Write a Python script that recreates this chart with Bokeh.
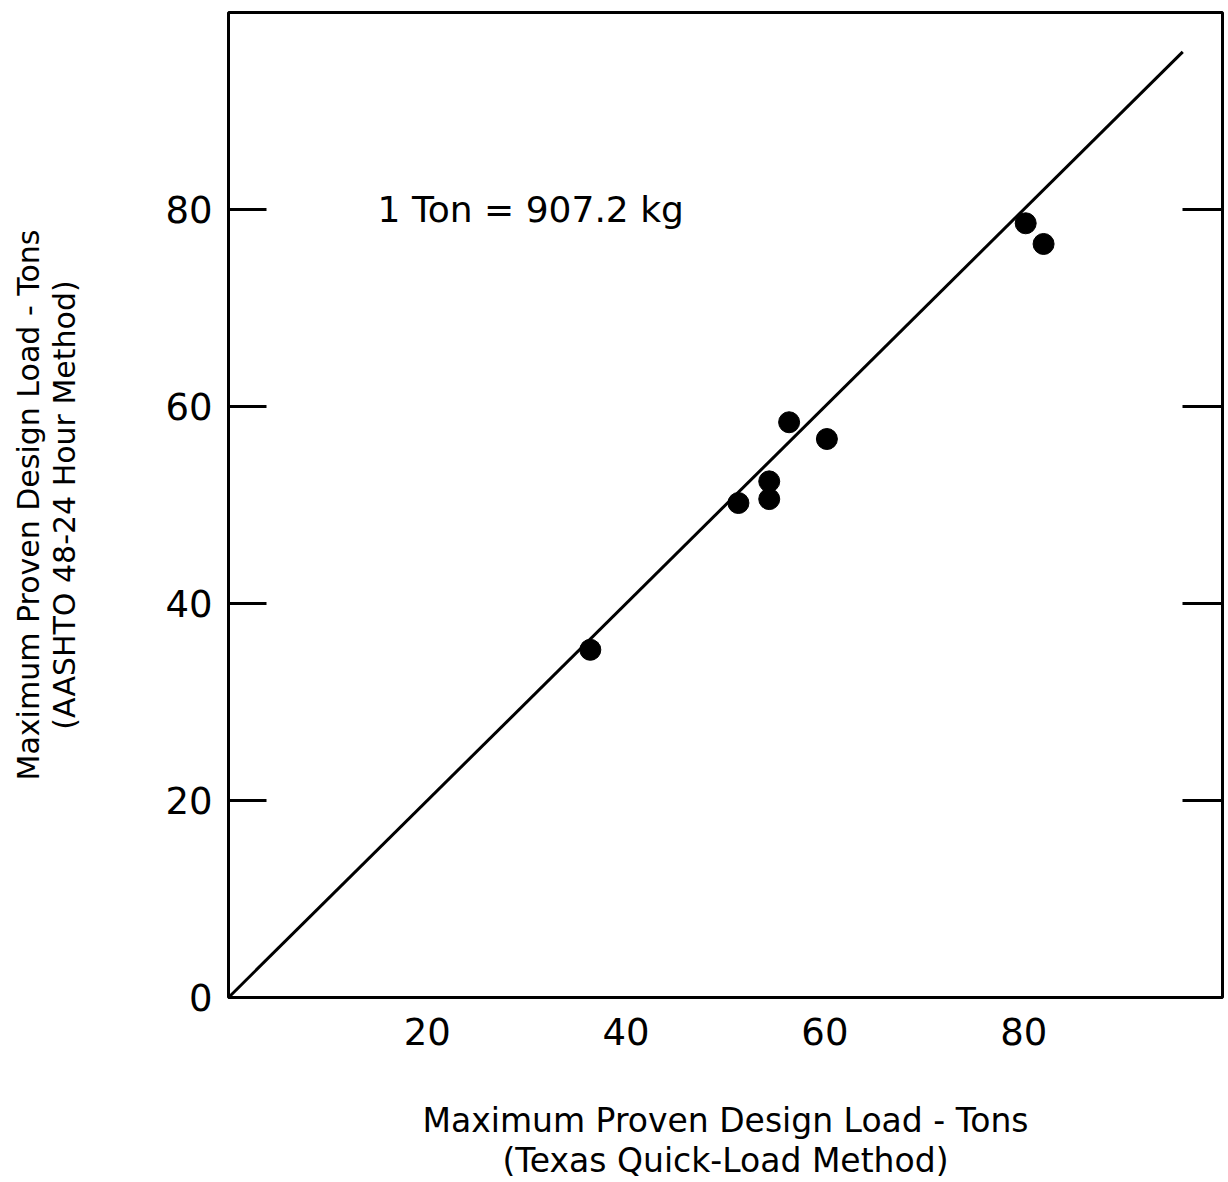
from bokeh.plotting import figure
from bokeh.models import Range1d, FixedTicker, LinearAxis, Label
from bokeh.embed import file_html
from bokeh.resources import INLINE

# Data (tons)
texas_quick_load = [36.4, 51.3, 54.4, 54.4, 56.4, 60.2, 80.2, 82.0]
aashto_48_24 = [35.3, 50.2, 52.4, 50.6, 58.4, 56.7, 78.6, 76.5]
line_x = [0, 96]
line_y = [0, 96]
y_ticks = [0, 20, 40, 60, 80]
x_ticks = [20, 40, 60, 80]
right_ticks = [20, 40, 60, 80]
x_title = "Maximum Proven Design Load - Tons\n(Texas Quick-Load Method)"
y_title = "Maximum Proven Design Load - Tons\n(AASHTO 48-24 Hour Method)"
note = "1 Ton = 907.2 kg"

FONT = "DejaVu Sans"

p = figure(width=1224, height=1182, output_backend="svg", toolbar_location=None,
           x_range=Range1d(0, 100), y_range=Range1d(0, 100),
           min_border_left=228, min_border_right=2, min_border_top=12, min_border_bottom=185,
           x_axis_location=None, y_axis_location=None)
p.grid.visible = False
p.background_fill_color = "white"
p.border_fill_color = "white"
p.outline_line_color = "black"
p.outline_line_width = 3

# bottom axis
xa = LinearAxis(ticker=FixedTicker(ticks=x_ticks))
xa.axis_line_color = None
xa.major_tick_in = 0
xa.major_tick_out = 0
xa.minor_tick_line_color = None
xa.major_label_standoff = 20
xa.major_label_text_font = FONT
xa.major_label_text_font_size = "37px"
xa.major_label_text_color = "black"
xa.axis_label = x_title
xa.axis_label_standoff = 53
xa.axis_label_text_font = FONT
xa.axis_label_text_font_size = "33px"
xa.axis_label_text_font_style = "normal"
xa.axis_label_text_color = "black"
xa.axis_label_text_line_height = 1.03
p.add_layout(xa, "below")

# left axis
ya = LinearAxis(ticker=FixedTicker(ticks=y_ticks))
ya.axis_line_color = None
ya.major_tick_in = 38
ya.major_tick_out = 0
ya.major_tick_line_width = 3
ya.major_tick_line_color = "black"
ya.minor_tick_line_color = None
ya.major_label_standoff = 16
ya.major_label_text_font = FONT
ya.major_label_text_font_size = "37px"
ya.major_label_text_color = "black"
ya.axis_label = y_title
ya.axis_label_standoff = 80
ya.axis_label_text_font = FONT
ya.axis_label_text_font_size = "30px"
ya.axis_label_text_font_style = "normal"
ya.axis_label_text_color = "black"
ya.axis_label_text_line_height = 1.03
p.add_layout(ya, "left")

# right axis (ticks only)
ra = LinearAxis(ticker=FixedTicker(ticks=right_ticks))
ra.axis_line_color = None
ra.major_tick_in = 40
ra.major_tick_out = 0
ra.major_tick_line_width = 3
ra.major_tick_line_color = "black"
ra.minor_tick_line_color = None
ra.major_label_standoff = 0
ra.major_label_overrides = {t: "" for t in right_ticks}
p.add_layout(ra, "right")

p.line(line_x, line_y, line_color="black", line_width=3)
p.scatter(texas_quick_load, aashto_48_24, size=21, fill_color="black", line_color="black")

p.add_layout(Label(x=15, y=80, text=note, text_font=FONT, text_font_size="36px",
                   text_align="left", text_baseline="middle", text_color="black"))

open("out.html", "w").write(file_html(p, INLINE))
